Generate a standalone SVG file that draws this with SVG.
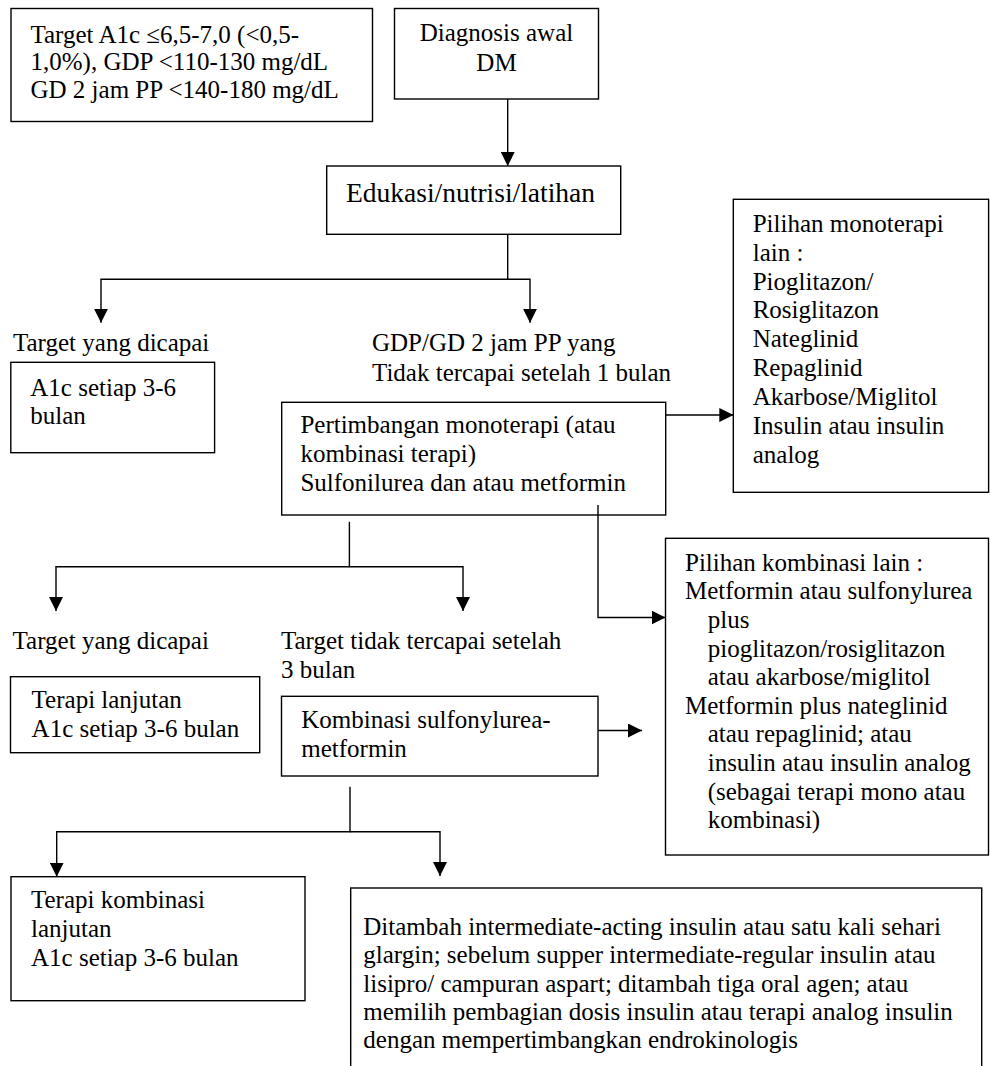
<svg xmlns="http://www.w3.org/2000/svg" width="990" height="1066" viewBox="0 0 990 1066">
<defs>
<marker id="ah" markerUnits="userSpaceOnUse" markerWidth="14" markerHeight="14" refX="14" refY="7" orient="auto"><path d="M0,0 L14,7 L0,14 z" fill="#000"/></marker>
</defs>
<style>
.box{fill:#fff;stroke:#000;stroke-width:1.4}
.edge{fill:none;stroke:#000;stroke-width:1.4;marker-end:url(#ah)}
.line{fill:none;stroke:#000;stroke-width:1.4}
text{font-family:"Liberation Serif","Times New Roman",serif;font-size:25px;fill:#000}
.big{font-size:27.5px}
.mid{text-anchor:middle}
</style>
<rect width="990" height="1066" fill="#fff"/>
<g id="n-target">
<rect class="box" x="11" y="8.5" width="361.5" height="113"/>
<text x="30.5" y="42.5">Target A1c ≤6,5-7,0 (&lt;0,5-</text>
<text x="30.5" y="70.3">1,0%), GDP &lt;110-130 mg/dL</text>
<text x="30.5" y="98">GD 2 jam PP &lt;140-180 mg/dL</text>
</g>
<g id="n-diagnosis">
<rect class="box" x="394.5" y="8.5" width="204" height="90.5"/>
<text class="mid" x="496.5" y="41">Diagnosis awal</text>
<text class="mid" x="496.5" y="70.7">DM</text>
</g>
<g id="n-edukasi">
<rect class="box" x="326.7" y="166" width="294" height="68.3"/>
<text class="big" x="346" y="201.5">Edukasi/nutrisi/latihan</text>
</g>
<g id="l-target1">
<text x="13" y="351">Target yang dicapai</text>
</g>
<g id="l-gdp">
<text x="372" y="351">GDP/GD 2 jam PP yang</text>
<text x="372" y="380.5">Tidak tercapai setelah 1 bulan</text>
</g>
<g id="n-a1c">
<rect class="box" x="10.8" y="362.3" width="203.8" height="90.4"/>
<text x="30.3" y="395.7">A1c setiap 3-6</text>
<text x="30.3" y="424">bulan</text>
</g>
<g id="n-pertimbangan">
<rect class="box" x="281.7" y="402.3" width="384" height="112.7"/>
<text x="300.4" y="433.3">Pertimbangan monoterapi (atau</text>
<text x="300.4" y="461.7">kombinasi terapi)</text>
<text x="300.4" y="491">Sulfonilurea dan atau metformin</text>
</g>
<g id="n-monoterapi">
<rect class="box" x="733.3" y="199.3" width="255.3" height="293"/>
<text x="752.7" y="231.7">Pilihan monoterapi</text>
<text x="752.7" y="260.6">lain :</text>
<text x="752.7" y="289.5">Pioglitazon/</text>
<text x="752.7" y="318.4">Rosiglitazon</text>
<text x="752.7" y="347.3">Nateglinid</text>
<text x="752.7" y="376.2">Repaglinid</text>
<text x="752.7" y="405.1">Akarbose/Miglitol</text>
<text x="752.7" y="434">Insulin atau insulin</text>
<text x="752.7" y="462.9">analog</text>
</g>
<g id="n-kombinasi-lain">
<rect class="box" x="665.5" y="538.3" width="323" height="316.7"/>
<text x="685" y="570.7">Pilihan kombinasi lain :</text>
<text x="685" y="599.3">Metformin atau sulfonylurea</text>
<text x="707.7" y="628">plus</text>
<text x="707.7" y="656.6">pioglitazon/rosiglitazon</text>
<text x="707.7" y="685.2">atau akarbose/miglitol</text>
<text x="685" y="713.8">Metformin plus nateglinid</text>
<text x="707.7" y="742.4">atau repaglinid; atau</text>
<text x="707.7" y="771">insulin atau insulin analog</text>
<text x="707.7" y="799.6">(sebagai terapi mono atau</text>
<text x="707.7" y="828.2">kombinasi)</text>
</g>
<g id="l-target2">
<text x="12.6" y="649">Target yang dicapai</text>
</g>
<g id="l-tidak">
<text x="281" y="649">Target tidak tercapai setelah</text>
<text x="281" y="677.7">3 bulan</text>
</g>
<g id="n-terapi-lanjutan">
<rect class="box" x="10.5" y="676.7" width="249.2" height="76"/>
<text x="31.6" y="708.3">Terapi lanjutan</text>
<text x="31.6" y="736.7">A1c setiap 3-6 bulan</text>
</g>
<g id="n-kombinasi-su-met">
<rect class="box" x="281.5" y="696.3" width="316.5" height="79.7"/>
<text x="301.3" y="728.3">Kombinasi sulfonylurea-</text>
<text x="301.3" y="757.3">metformin</text>
</g>
<g id="n-terapi-kombinasi">
<rect class="box" x="11" y="876.7" width="294" height="124"/>
<text x="31" y="908.3">Terapi kombinasi</text>
<text x="31" y="937">lanjutan</text>
<text x="31" y="966">A1c setiap 3-6 bulan</text>
</g>
<g id="n-insulin">
<rect class="box" x="350.7" y="888" width="631" height="200"/>
<text x="363.3" y="935">Ditambah intermediate-acting insulin atau satu kali sehari</text>
<text x="363.3" y="963.3">glargin; sebelum supper intermediate-regular insulin atau</text>
<text x="363.3" y="991.7">lisipro/ campuran aspart; ditambah tiga oral agen; atau</text>
<text x="363.3" y="1020">memilih pembagian dosis insulin atau terapi analog insulin</text>
<text x="363.3" y="1048.3">dengan mempertimbangkan endrokinologis</text>
</g>
<g id="connectors">
<path class="edge" d="M507.7,99 V166"/>
<path class="edge" d="M507.7,234.3 V279.3 H101 V322.7"/>
<path class="edge" d="M507.7,279.3 H530 V322.7"/>
<path class="edge" d="M665.7,415 H733.3"/>
<path class="edge" d="M349.4,521.7 V566.7 H56 V611"/>
<path class="edge" d="M349.4,566.7 H463 V611"/>
<path class="edge" d="M598,505 V617.5 H665.5"/>
<path class="edge" d="M598,730.5 H642"/>
<path class="edge" d="M350,786.7 V831.7 H56.7 V876.7"/>
<path class="edge" d="M350,831.7 H440 V876"/>
</g>
</svg>
